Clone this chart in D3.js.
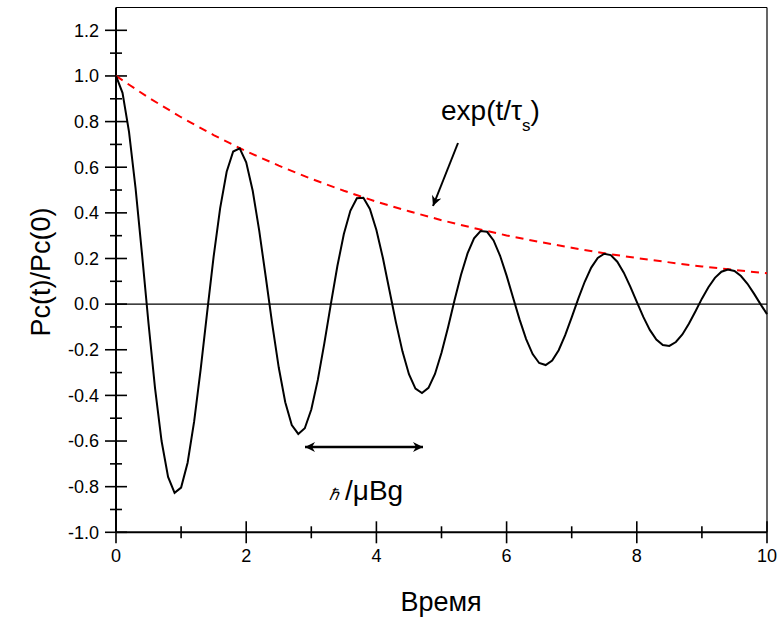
<!DOCTYPE html>
<html>
<head>
<meta charset="utf-8">
<script src="https://cdn.jsdelivr.net/npm/d3@7"></script>
<style>
  html, body { margin: 0; padding: 0; background: #fff; }
  svg { display: block; font-family: "Liberation Sans", Arial, sans-serif; }
</style>
</head>
<body>
<svg id="chart" width="778" height="619"></svg>
<script>
// Time samples (step 0.1) and the normalised population Pc(t)/Pc(0)
const timeValues = d3.range(0, 101).map(k => +(k * 0.1).toFixed(1));
const pcValues = [
  1.000, 0.926, 0.755, 0.509, 0.218, -0.086, -0.369, -0.600, -0.757, -0.827,
  -0.804, -0.695, -0.515, -0.287, -0.036, 0.209, 0.421, 0.580, 0.669, 0.683,
  0.622, 0.497, 0.322, 0.120, -0.088, -0.278, -0.430, -0.530, -0.569, -0.544,
  -0.462, -0.332, -0.172, 0.000, 0.166, 0.307, 0.409, 0.464, 0.466, 0.417,
  0.325, 0.202, 0.061, -0.080, -0.207, -0.307, -0.370, -0.390, -0.367, -0.306,
  -0.213, -0.102, 0.017, 0.129, 0.222, 0.288, 0.320, 0.317, 0.279, 0.212,
  0.125, 0.028, -0.068, -0.153, -0.219, -0.258, -0.267, -0.247, -0.202, -0.136,
  -0.058, 0.023, 0.098, 0.160, 0.202, 0.221, 0.215, 0.186, 0.138, 0.077,
  0.010, -0.056, -0.113, -0.155, -0.179, -0.183, -0.166, -0.133, -0.086, -0.032,
  0.024, 0.074, 0.115, 0.142, 0.152, 0.145, 0.123, 0.089, 0.046, 0.000,
  -0.044
];

// Decay envelope exp(-t/tau_s), sampled every 0.5
const envTime = d3.range(0, 21).map(k => k * 0.5);
const envValues = [
  1.000, 0.905, 0.819, 0.741, 0.670, 0.607, 0.549, 0.497, 0.449, 0.407,
  0.368, 0.333, 0.301, 0.273, 0.247, 0.223, 0.202, 0.183, 0.165, 0.150,
  0.135
];

// Tick values
const xMajorTicks = [0, 2, 4, 6, 8, 10];
const xMinorTicks = [1, 3, 5, 7, 9];
const yMajorTicks = [-1.0, -0.8, -0.6, -0.4, -0.2, 0.0, 0.2, 0.4, 0.6, 0.8, 1.0, 1.2];
const yMinorTicks = [-0.9, -0.7, -0.5, -0.3, -0.1, 0.1, 0.3, 0.5, 0.7, 0.9, 1.1];

const svg = d3.select("#chart");

const plotLeft = 116, plotRight = 767, plotTop = 7.5, plotBottom = 532.3;
const x = d3.scaleLinear().domain([0, 10]).range([plotLeft, plotRight]);
const y = d3.scaleLinear().domain([-1.0, 1.3]).range([plotBottom, plotTop]);

// Frame: thin top and right edges
svg.append("line").attr("x1", plotLeft).attr("x2", plotRight).attr("y1", plotTop).attr("y2", plotTop)
  .attr("stroke", "#000").attr("stroke-width", 1.2);
svg.append("line").attr("x1", plotRight).attr("x2", plotRight).attr("y1", plotTop).attr("y2", plotBottom)
  .attr("stroke", "#000").attr("stroke-width", 1.2);

// Zero reference line
svg.append("line").attr("x1", x(0)).attr("x2", x(10)).attr("y1", y(0)).attr("y2", y(0))
  .attr("stroke", "#000").attr("stroke-width", 1.2);

// Y axis
const yAxis = svg.append("g");
yAxis.append("line").attr("x1", plotLeft).attr("x2", plotLeft).attr("y1", plotTop).attr("y2", plotBottom)
  .attr("stroke", "#000").attr("stroke-width", 2);
yAxis.selectAll("line.major").data(yMajorTicks).join("line").attr("class", "major")
  .attr("x1", plotLeft - 11).attr("x2", plotLeft + 11)
  .attr("y1", d => y(d)).attr("y2", d => y(d))
  .attr("stroke", "#000").attr("stroke-width", 1.6);
yAxis.selectAll("line.minor").data(yMinorTicks).join("line").attr("class", "minor")
  .attr("x1", plotLeft - 6).attr("x2", plotLeft + 6)
  .attr("y1", d => y(d)).attr("y2", d => y(d))
  .attr("stroke", "#000").attr("stroke-width", 1.6);
yAxis.selectAll("text").data(yMajorTicks).join("text")
  .attr("x", plotLeft - 17).attr("y", d => y(d)).attr("dy", "0.35em")
  .attr("text-anchor", "end").attr("font-size", 18)
  .text(d => d.toFixed(1));

// X axis
const xAxis = svg.append("g");
xAxis.append("line").attr("x1", plotLeft).attr("x2", plotRight).attr("y1", plotBottom).attr("y2", plotBottom)
  .attr("stroke", "#000").attr("stroke-width", 2);
xAxis.selectAll("line.major").data(xMajorTicks).join("line").attr("class", "major")
  .attr("x1", d => x(d)).attr("x2", d => x(d))
  .attr("y1", plotBottom - 11).attr("y2", plotBottom + 11)
  .attr("stroke", "#000").attr("stroke-width", 1.6);
xAxis.selectAll("line.minor").data(xMinorTicks).join("line").attr("class", "minor")
  .attr("x1", d => x(d)).attr("x2", d => x(d))
  .attr("y1", plotBottom - 6).attr("y2", plotBottom + 6)
  .attr("stroke", "#000").attr("stroke-width", 1.6);
xAxis.selectAll("text").data(xMajorTicks).join("text")
  .attr("x", d => x(d)).attr("y", plotBottom + 30)
  .attr("text-anchor", "middle").attr("font-size", 18)
  .text(d => d);

// Axis titles
svg.append("text")
  .attr("transform", `translate(50, ${(plotTop + plotBottom) / 2 + 2}) rotate(-90)`)
  .attr("text-anchor", "middle").attr("font-size", 27)
  .text("Pc(t)/Pc(0)");
svg.append("text")
  .attr("x", 441).attr("y", 611)
  .attr("text-anchor", "middle").attr("font-size", 27)
  .text("Время");

// Envelope (red dashed)
const line = d3.line().x(d => x(d[0])).y(d => y(d[1]));
svg.append("path")
  .datum(envTime.map((t, i) => [t, envValues[i]]))
  .attr("d", line)
  .attr("fill", "none").attr("stroke", "#ff0000").attr("stroke-width", 2)
  .attr("stroke-dasharray", "8,6");

// Oscillating signal
svg.append("path")
  .datum(timeValues.map((t, i) => [t, pcValues[i]]))
  .attr("d", line)
  .attr("fill", "none").attr("stroke", "#000").attr("stroke-width", 2)
  .attr("stroke-linejoin", "miter");

// Arrowhead markers
const defs = svg.append("defs");
defs.append("marker").attr("id", "head")
  .attr("viewBox", "0 0 10 10").attr("refX", 10).attr("refY", 5)
  .attr("markerUnits", "userSpaceOnUse")
  .attr("markerWidth", 18).attr("markerHeight", 10)
  .attr("orient", "auto-start-reverse")
  .append("path").attr("d", "M0,0 L10,5 L0,10 L3,5 Z").attr("fill", "#000");

// Annotation: envelope label with pointer
const ann = svg.append("text").attr("x", 441).attr("y", 120).attr("font-size", 28);
ann.append("tspan").text("exp(t/τ");
ann.append("tspan").attr("font-size", 17).attr("dy", 11).text("s");
ann.append("tspan").attr("dy", -11).text(")");

svg.append("line")
  .attr("x1", 458).attr("y1", 143).attr("x2", 433).attr("y2", 206)
  .attr("stroke", "#000").attr("stroke-width", 2)
  .attr("marker-end", "url(#head)");

// Period marker: double arrow and label
svg.append("line")
  .attr("x1", 305).attr("y1", 447).attr("x2", 423).attr("y2", 447)
  .attr("stroke", "#000").attr("stroke-width", 2.5)
  .attr("marker-start", "url(#head)").attr("marker-end", "url(#head)");

const per = svg.append("text").attr("x", 329).attr("y", 500).attr("font-size", 28);
per.append("tspan").attr("font-size", 16).attr("font-style", "italic").text("ℏ");
per.append("tspan").attr("dx", 6).text("/μBg");
</script>
</body>
</html>
